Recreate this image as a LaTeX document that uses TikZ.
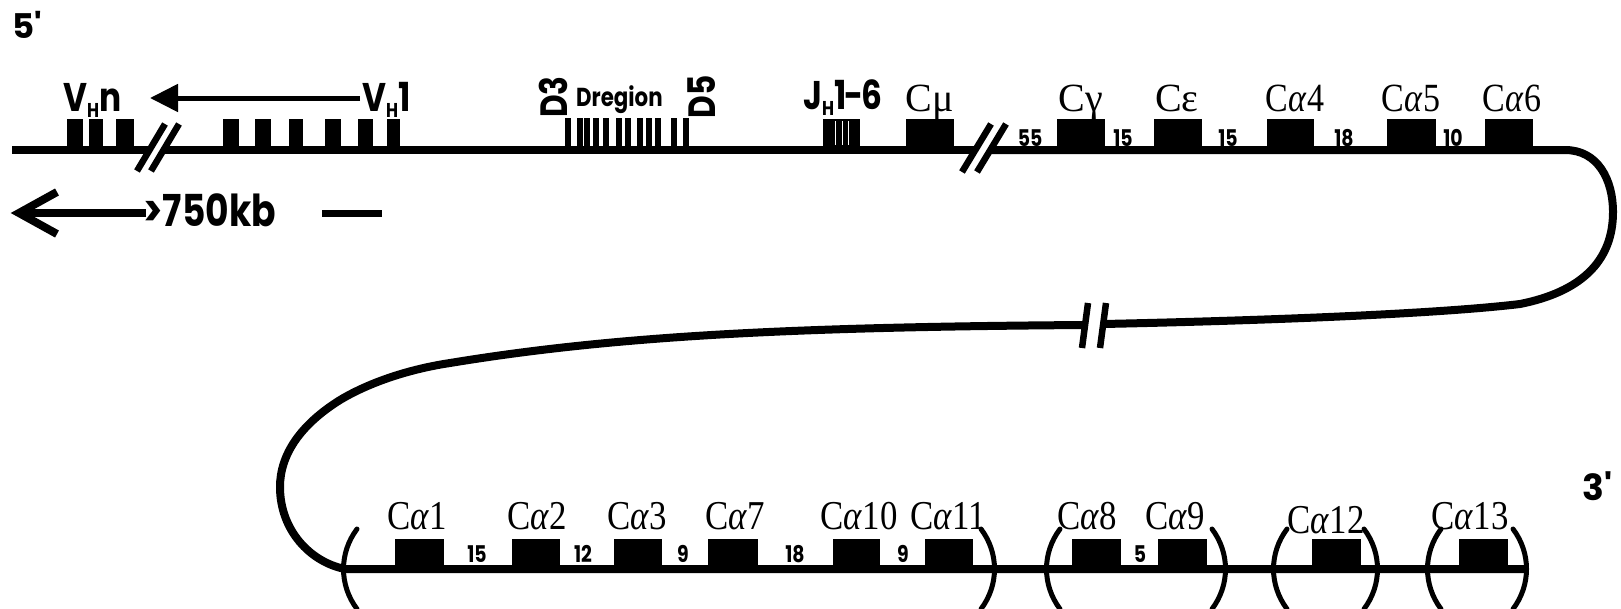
\documentclass[tikz,border=0pt]{standalone}
\usepackage{fontspec}
\setmainfont{Liberation Serif}
\newfontfamily\fut{Poppins}
\usetikzlibrary{arrows.meta}
\newcommand\sx[1]{\scalebox{0.85}[1]{#1}}
\newcommand\fx[1]{\scalebox{0.82}[1]{#1}}
\newcommand\subH{\raisebox{-6pt}{\fontsize{20}{20}\selectfont H}}
\begin{document}
\begin{tikzpicture}[x=1pt,y=-1pt,
  dna/.style={line width=8pt, line join=round},
  brk/.style={line width=6.5pt},
  paren/.style={line width=5pt, line cap=round},
  clab/.style={font=\fontsize{40}{40}\selectfont, anchor=base, inner sep=0pt},
  blab/.style={font=\fontsize{41}{41}\selectfont, anchor=base, inner sep=0pt},
  num/.style={font=\fut\bfseries\fontsize{23}{23}\selectfont, anchor=base, inner sep=0pt},
  sans/.style={font=\fut\bfseries\fontsize{40}{40}\selectfont, inner sep=0pt},
]
\useasboundingbox (0,0) rectangle (1621,608);

% ---- top row boxes
\foreach \a/\b in {67/83, 89/103, 116/134, 223/239, 255/271, 289/303, 325/341, 358/373, 387/400,
  823/860, 906/954, 1057/1105, 1154/1202, 1267/1314, 1387/1436, 1485/1533}
  \fill (\a,119) rectangle (\b,150);
\foreach \a in {565,577,584,593,603,616,625,637,646,655,671,683}
  \fill (\a,118) rectangle (\a+5.5,150);
\foreach \a in {835,842,848}
  \draw[white,line width=0.8pt] (\a,121) -- (\a,145);

% ---- bottom row boxes
\foreach \a/\b in {395/444, 512/560, 614/662, 708/758, 833/880, 925/973, 1072/1121, 1158/1207, 1312/1361, 1459/1508}
  \fill (\a,539) rectangle (\b,569);

% ---- DNA line
\draw[dna] (12,150) -- (149,150);
\draw[dna] (164,150) -- (975,150);
\draw[dna] (990,150) -- (1565,150) .. controls (1598,150) and (1613,180) .. (1613,212)
  .. controls (1613,262) and (1580,292) .. (1520,304)
  .. controls (1420,316) and (1200,322) .. (1103,324);
\draw[dna] (1085,325) .. controls (800,327) and (620,335) .. (450,363)
  .. controls (410,369) and (370,382) .. (340,400)
  .. controls (300,425) and (280,455) .. (280,487)
  .. controls (280,530) and (310,562) .. (345,569) -- (1528,569);

% ---- breaks
\draw[brk] (137,171) -- (165,124);
\draw[brk] (151,171) -- (179,124);
\draw[brk] (962,172) -- (991,124);
\draw[brk] (977,172) -- (1006,124);
\draw[brk] (1082,348) -- (1088,303);
\draw[brk] (1100,348) -- (1106,303);

% ---- parentheses
\foreach \L in {342,1045,1272,1426}
  \draw[paren] (\L+15,529) .. controls (\L-3,553) and (\L-3,585) .. (\L+15,609);
\foreach \R in {996,1227,1379,1528}
  \draw[paren] (\R-15,529) .. controls (\R+3,553) and (\R+3,585) .. (\R-15,609);

% ---- VH arrow
\coordinate (varr) at (360,98);
\coordinate (vtip) at (150,98);
\draw[line width=5pt, -{Triangle[length=28pt,width=27pt]}] (varr) -- (vtip);

% ---- >750kb arrow and scale bar
\coordinate (kbend) at (146,213);
\coordinate (kbtip) at (19,213);
\draw[line width=7.5pt] (kbend) -- (kbtip);
\draw[line width=8pt, line join=miter] (57,192) -- (kbtip) -- (57,234);
\draw[line width=7pt] (322,213) -- (382,213);

% ---- sans labels
\node[sans, anchor=north west, font=\fut\bfseries\fontsize{34}{34}\selectfont] (p5) at (12,11) {5\textquotesingle};
\node[sans, anchor=north west, font=\fut\bfseries\fontsize{36}{36}\selectfont] (p3) at (1582,471) {3\textquotesingle};
\node[sans, anchor=base west] (vhn) at (63,111) {\fx{V\subH n}};
\node[sans, anchor=base west] (vh1) at (362,111) {\fx{V\subH 1}};
\node[sans, anchor=base west] (jh) at (803,109) {\fx{J\subH 1\kern-3pt-\kern-2pt6}};
\node[sans, rotate=90, font=\fut\bfseries\fontsize{38}{38}\selectfont] (d3) at (553,97) {\fx{D3}};
\node[sans, rotate=90, font=\fut\bfseries\fontsize{38}{38}\selectfont] (d5) at (702,97) {\fx{D5}};
\node[anchor=base west, inner sep=0pt, font=\fut\bfseries\fontsize{26}{26}\selectfont] (dreg) at (576,106) {\fx{Dregion}};
\node[sans, anchor=base west, font=\fut\bfseries\fontsize{44}{44}\selectfont] (kb) at (143,226) {\fx{>750kb}};

% ---- top constant-region labels
\node[clab] (cmu) at (930,111) {Cμ};
\node[clab] (cg) at (1081,111) {Cγ};
\node[clab] (ce) at (1177,111) {Cε};
\node[clab] (ca4) at (1295,111) {\sx{C\textit{α}4}};
\node[clab] (ca5) at (1411,111) {\sx{C\textit{α}5}};
\node[clab] (ca6) at (1512,111) {\sx{C\textit{α}6}};

% ---- top spacings
\node[num] (t1) at (1030,146) {\fx{55}};
\node[num] (t2) at (1123,146) {\fx{15}};
\node[num] (t3) at (1228,146) {\fx{15}};
\node[num] (t4) at (1344,146) {\fx{18}};
\node[num] (t5) at (1453,146) {\fx{10}};

% ---- bottom labels
\node[blab] (ca1) at (417,529) {\sx{C\textit{α}1}};
\node[blab] (ca2) at (537,529) {\sx{C\textit{α}2}};
\node[blab] (ca3) at (637,529) {\sx{C\textit{α}3}};
\node[blab] (ca7) at (735,529) {\sx{C\textit{α}7}};
\node[blab] (ca10) at (859,529) {\sx{C\textit{α}10}};
\node[blab] (ca11) at (948,529) {\sx{C\textit{α}11}};
\node[blab] (ca8) at (1087,529) {\sx{C\textit{α}8}};
\node[blab] (ca9) at (1175,529) {\sx{C\textit{α}9}};
\node[blab] (ca12) at (1326,533) {\sx{C\textit{α}12}};
\node[blab] (ca13) at (1470,529) {\sx{C\textit{α}13}};

% ---- bottom spacings
\node[num] (b1) at (477,562) {\fx{15}};
\node[num] (b2) at (583,562) {\fx{12}};
\node[num] (b3) at (683,562) {\fx{9}};
\node[num] (b4) at (795,562) {\fx{18}};
\node[num] (b5) at (903,562) {\fx{9}};
\node[num] (b6) at (1140,562) {\fx{5}};
\end{tikzpicture}
\end{document}
